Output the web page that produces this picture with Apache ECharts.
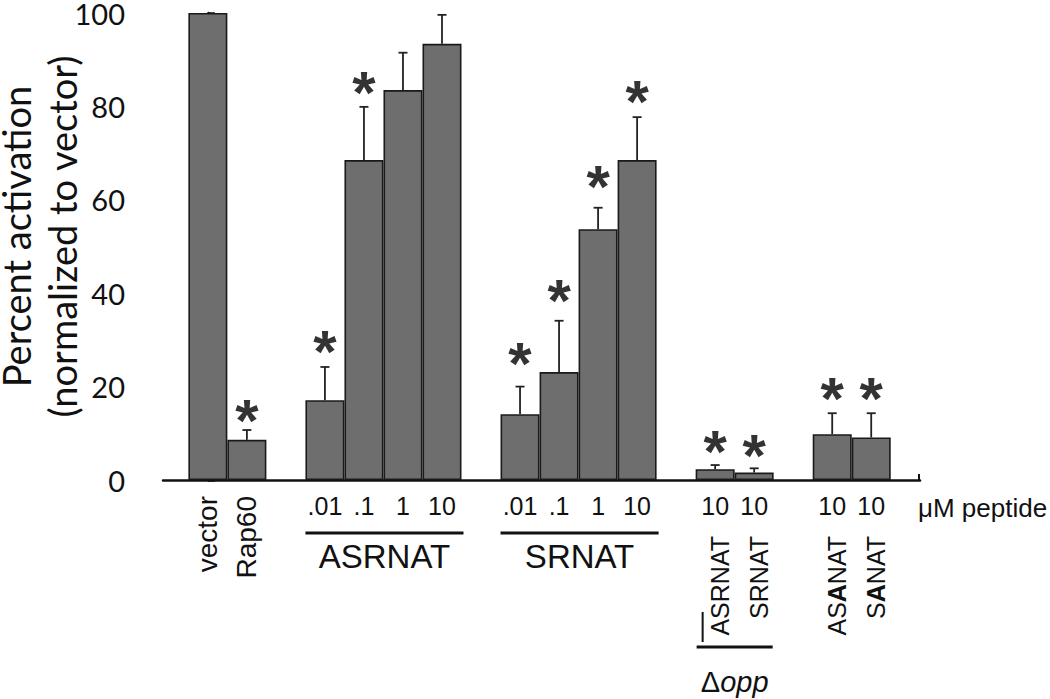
<!DOCTYPE html>
<html><head><meta charset="utf-8">
<script src="https://cdn.jsdelivr.net/npm/echarts@6/dist/echarts.min.js"></script>
<style>html,body{margin:0;padding:0;background:#fff}#c{width:1050px;height:699px}</style>
</head><body><div id="c"></div>
<script>
// ---- data ----
const slotPositions = [0, 1, 3, 4, 5, 6, 8, 9, 10, 11, 13, 14, 16, 17];
const activation   = [100, 8.6, 17.1, 68.5, 83.5, 93.4, 14.1, 23.1, 53.7, 68.5, 2.3, 1.6, 9.8, 9.1];
const errorUp      = [0, 2.1, 7.1, 11.4, 8.0, 6.2, 5.9, 11.0, 4.6, 9.2, 0.9, 0.9, 4.5, 5.2];
const starLevel    = [null, 15.6, 30.2, 85.7, null, null, 27.8, 41.3, 65.7, 83.9, 8.9, 8.1, 20.3, 20.3];
const doseLabels   = [null, null, '.01', '.1', '1', '10', '.01', '.1', '1', '10', '10', '10', '10', '10'];
const strainLabels = ['vector', 'Rap60', null, null, null, null, null, null, null, null, null, null, null, null];
const peptideLabels = [null, null, null, null, null, null, null, null, null, null, 'ASRNAT', 'SRNAT', 'AS{b|A}NAT', 'S{b|A}NAT'];
const titrationNames = ['ASRNAT', 'SRNAT'];
const titrationFrom = [3, 8];
const titrationTo = [6, 11];
const strainGroupName = ['Δ', 'opp'];
const strainGroupFrom = 13, strainGroupTo = 14;
const unitLabel = 'μM peptide';
const yTitle = ['Percent activation', '(normalized to vector)'];
const yMin = 0, yMax = 100, yStep = 20;

// ---- build ----
const doseMap = {}, strainMap = {}, peptideMap = {};
slotPositions.forEach((p, i) => {
  if (doseLabels[i]) doseMap[p] = doseLabels[i];
  if (strainLabels[i]) strainMap[p] = strainLabels[i];
  if (peptideLabels[i]) peptideMap[p] = peptideLabels[i];
});
const barData = slotPositions.map((p, i) => [p, activation[i]]);
const errData = slotPositions.map((p, i) => [p, activation[i], errorUp[i]]);
const starData = slotPositions.map((p, i) => [p, starLevel[i]]).filter(d => d[1] != null);

const XMIN = -1.15, XMAX = 18.25;
const AX = '#111';
const baseX = {
  type: 'value', min: XMIN, max: XMAX, position: 'bottom',
  splitLine: { show: false }, axisTick: { show: false }
};
const chart = echarts.init(document.getElementById('c'), null, { renderer: 'svg' });
const option = {
  animation: false,
  backgroundColor: '#fff',
  grid: { left: 163, right: 130, top: 13, bottom: 219, containLabel: false, outerBoundsMode: 'none' },
  xAxis: [
    Object.assign({}, baseX, {
      axisLine: { show: true, lineStyle: { color: AX, width: 2.5 } },
      axisLabel: {
        customValues: Object.keys(doseMap).map(Number),
        formatter: v => doseMap[v] || '',
        margin: 13, fontSize: 25, color: AX, fontFamily: 'Liberation Sans'
      }
    }),
    Object.assign({}, baseX, {
      axisLine: { show: false },
      axisLabel: {
        customValues: Object.keys(strainMap).map(Number),
        formatter: v => strainMap[v] || '',
        rotate: 90, margin: 16, fontSize: 28, color: AX, fontFamily: 'Liberation Sans'
      }
    }),
    Object.assign({}, baseX, {
      axisLine: { show: false },
      axisLabel: {
        customValues: Object.keys(peptideMap).map(Number),
        formatter: v => peptideMap[v] || '',
        rotate: 90, margin: 56, fontSize: 25, color: AX, fontFamily: 'Liberation Sans',
        padding: [10, 0, 0, 0],
        rich: { b: { fontSize: 25, fontWeight: 'bold', color: AX, fontFamily: 'Liberation Sans' } }
      }
    })
  ],
  yAxis: {
    type: 'value', min: yMin, max: yMax, interval: yStep,
    axisLine: { show: true, lineStyle: { color: AX, width: 2.5 } },
    axisTick: { show: true, inside: true, length: 7, lineStyle: { color: AX, width: 2.5 } },
    splitLine: { show: false },
    axisLabel: { margin: 38, fontSize: 29, lineHeight: 24, color: AX, fontFamily: 'Lato' },
    name: yTitle.join('\n'), nameLocation: 'middle', nameRotate: 90, nameGap: 78,
    nameMoveOverlap: false,
    nameTextStyle: { fontSize: 38, lineHeight: 46, color: AX, fontFamily: 'Lato', padding: [0, 0, 0, 20] }
  },
  series: [
    {
      type: 'bar', data: barData, barWidth: 39, xAxisIndex: 0,
      itemStyle: { color: '#6e6e6e', borderColor: '#1a1a1a', borderWidth: 1.6 }, z: 2
    },
    {
      type: 'custom', data: errData, xAxisIndex: 0, z: 3,
      renderItem: (params, api) => {
        const x = api.value(0), y = api.value(1), e = api.value(2);
        if (!e) return;
        const p0 = api.coord([x, y]), p1 = api.coord([x, y + e]);
        const st = { stroke: '#222', lineWidth: 1.8 };
        return { type: 'group', children: [
          { type: 'line', shape: { x1: p0[0], y1: p0[1], x2: p1[0], y2: p1[1] }, style: st },
          { type: 'line', shape: { x1: p1[0] - 4.5, y1: p1[1], x2: p1[0] + 4.5, y2: p1[1] }, style: st }
        ] };
      }
    },
    {
      type: 'scatter', data: starData, xAxisIndex: 0, symbolSize: 0, z: 4,
      label: { show: true, position: 'inside', formatter: '*', offset: [0, 13],
        fontSize: 60, fontWeight: 'bold', color: '#000', fontFamily: 'Liberation Sans' }
    }
  ]
};
chart.setOption(option);

const X = v => chart.convertToPixel({ xAxisIndex: 0 }, v);
const Y = v => chart.convertToPixel({ yAxisIndex: 0 }, v);
const base = Y(yMin);
const gfx = [];
titrationNames.forEach((name, i) => {
  const x1 = X(titrationFrom[i] - 0.5), x2 = X(titrationTo[i] + 0.5) + 2;
  gfx.push({ type: 'line', shape: { x1: x1, y1: base + 53, x2: x2, y2: base + 53 }, style: { stroke: AX, lineWidth: 3 } });
  gfx.push({ type: 'text', x: (x1 + x2) / 2, y: base + 76,
    style: { text: name, fontSize: 33, fontFamily: 'Liberation Sans', fill: AX, align: 'center', verticalAlign: 'middle' } });
});
{
  const x1 = X(strainGroupFrom - 0.5) + 1, x2 = X(strainGroupTo + 0.5) - 1;
  gfx.push({ type: 'line', shape: { x1: x1, y1: base + 167, x2: x2, y2: base + 167 }, style: { stroke: AX, lineWidth: 3 } });
  gfx.push({ type: 'line', shape: { x1: x1 + 6, y1: base + 132, x2: x1 + 6, y2: base + 162 }, style: { stroke: AX, lineWidth: 2 } });
  gfx.push({ type: 'text', x: (x1 + x2) / 2, y: base + 202,
    style: { text: '{d|' + strainGroupName[0] + '}{i|' + strainGroupName[1] + '}', align: 'center', verticalAlign: 'middle',
      rich: { d: { fontSize: 29, fontFamily: 'Liberation Sans', fill: AX },
              i: { fontSize: 29, fontFamily: 'Liberation Sans', fontStyle: 'italic', fill: AX } } } });
}
gfx.push({ type: 'line', shape: { x1: X(XMAX) - 1, y1: base - 6, x2: X(XMAX) - 1, y2: base }, style: { stroke: AX, lineWidth: 2 } });
gfx.push({ type: 'text', x: X(XMAX) - 2, y: base + 28,
  style: { text: unitLabel, fontSize: 26, fontFamily: 'Liberation Sans', fill: AX, align: 'left', verticalAlign: 'middle' } });
chart.setOption({ graphic: gfx });
</script></body></html>
